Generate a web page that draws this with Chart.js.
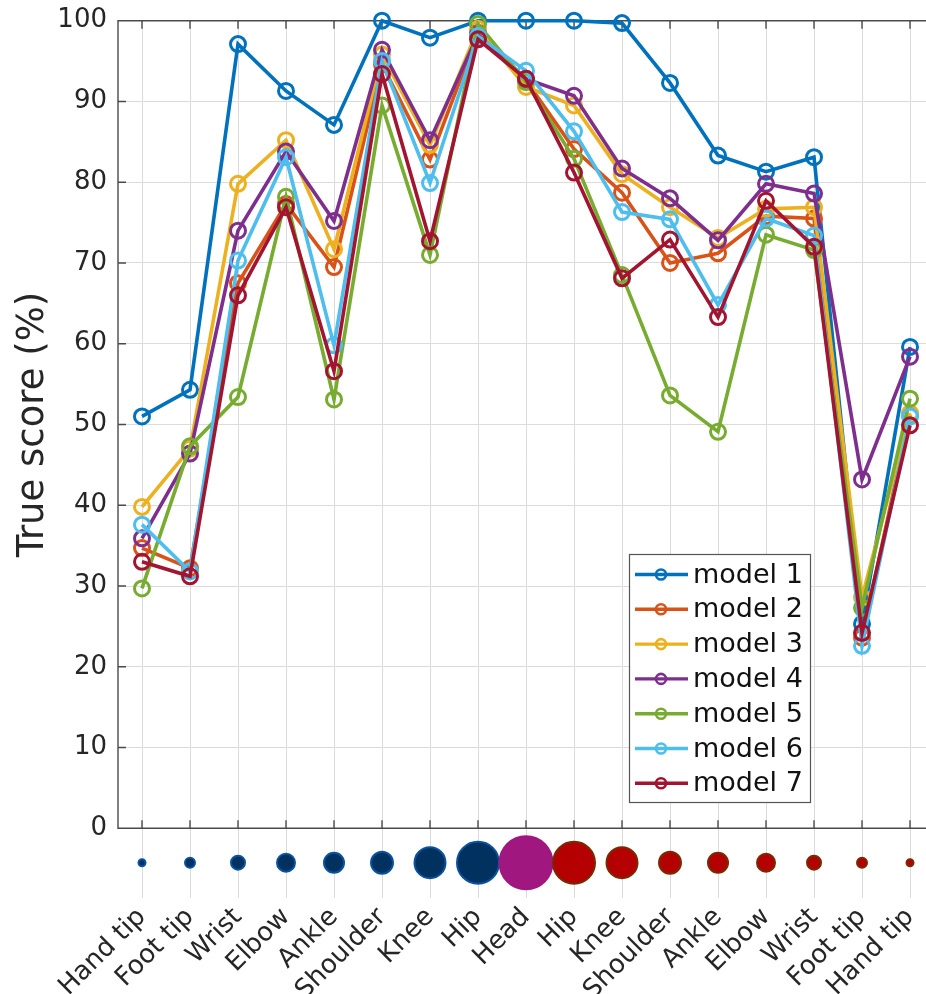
<!DOCTYPE html>
<html>
<head>
<meta charset="utf-8">
<script src="https://cdn.jsdelivr.net/npm/chart.js@4.4.1/dist/chart.umd.min.js"></script>
<style>
  html, body { margin: 0; padding: 0; background: #fff; overflow: hidden; }
  #chart { display: block; }
</style>
</head>
<body>
<canvas id="chart" width="926" height="994"></canvas>
<script>
// joints along the skeleton chain (left hand tip -> head -> right hand tip)
const jointLabels = ['Hand tip', 'Foot tip', 'Wrist', 'Elbow', 'Ankle', 'Shoulder', 'Knee', 'Hip',
  'Head', 'Hip', 'Knee', 'Shoulder', 'Ankle', 'Elbow', 'Wrist', 'Foot tip', 'Hand tip'];

// relative joint weight, shown as the circles under the axis
const jointWeight = [9, 12, 16, 20, 22, 24, 33, 44, 55, 44, 33, 24, 22, 20, 16, 12, 9];
const jointSide = ['L', 'L', 'L', 'L', 'L', 'L', 'L', 'L', 'C', 'R', 'R', 'R', 'R', 'R', 'R', 'R', 'R'];

const yTicks = [0, 10, 20, 30, 40, 50, 60, 70, 80, 90, 100];

const modelNames = ['model 1', 'model 2', 'model 3', 'model 4', 'model 5', 'model 6', 'model 7'];

const model1 = [51.0, 54.3, 97.1, 91.3, 87.1, 100, 97.9, 100, 100, 100, 99.7, 92.3, 83.3, 81.3, 83.1, 25.3, 59.6];
const model2 = [34.7, 32.2, 67.5, 77.3, 69.5, 94.6, 82.8, 98.5, 92.6, 84.1, 78.7, 70.0, 71.2, 75.8, 75.5, 23.6, 51.2];
const model3 = [39.8, 47.0, 79.8, 85.2, 71.7, 95.8, 84.6, 99.0, 91.8, 89.5, 81.0, 76.9, 73.1, 76.7, 76.9, 28.6, 51.4];
const model4 = [35.9, 46.4, 74.0, 83.8, 75.2, 96.4, 85.2, 98.3, 92.8, 90.7, 81.7, 78.0, 72.8, 79.8, 78.6, 43.2, 58.4];
const model5 = [29.7, 47.3, 53.4, 78.2, 53.1, 89.5, 71.0, 99.6, 92.4, 82.9, 68.5, 53.6, 49.1, 73.5, 71.6, 27.3, 53.2];
const model6 = [37.6, 31.8, 70.3, 83.1, 59.8, 95.0, 79.9, 98.1, 93.8, 86.3, 76.3, 75.4, 64.8, 75.5, 73.4, 22.6, 51.0];
const model7 = [33.0, 31.2, 66.0, 76.9, 56.6, 93.4, 72.7, 97.7, 92.8, 81.2, 68.1, 72.9, 63.3, 77.7, 72.0, 24.2, 49.9];

const modelColors = ['#0072BD', '#D95319', '#EDB120', '#7E2F8E', '#77AC30', '#4DBEEE', '#A2142F'];
const FONT = "'DejaVu Sans', sans-serif";
const TEXT = '#262626';
const AXIS = '#4a4a4a';

// y range: 0..100 for scores, below 0 is the strip with the joint circles
const Y_MIN = -8.63;
const CIRCLE_Y = -4.26;

const sideFill = { L: '#00315f', C: '#a0177f', R: '#b40000' };
const sideEdge = { L: '#0a52a0', C: '#a0177f', R: '#7a2a00' };

const lineSets = [model1, model2, model3, model4, model5, model6, model7].map((vals, i) => ({
  type: 'line',
  label: modelNames[i],
  data: vals.map((v, j) => ({ x: j, y: v })),
  borderColor: modelColors[i],
  backgroundColor: 'rgba(0,0,0,0)',
  borderWidth: 3.6,
  pointRadius: 7.5,
  pointBorderWidth: 3,
  pointBackgroundColor: 'rgba(0,0,0,0)',
  pointBorderColor: modelColors[i],
  tension: 0,
  clip: false,
  order: 6 - i // model 7 ends up on top
}));

const jointSet = {
  type: 'bubble',
  label: 'joints',
  data: jointWeight.map((w, j) => ({ x: j, y: CIRCLE_Y, r: w / 2 - 1 })),
  backgroundColor: jointSide.map(s => sideFill[s]),
  borderColor: jointSide.map(s => sideEdge[s]),
  borderWidth: 2,
  clip: false,
  order: 10
};

// box, inward ticks, y label and legend (MATLAB look)
const decorPlugin = {
  id: 'decor',
  beforeDatasetsDraw(chart) {
    const { ctx, chartArea } = chart;
    const xs = chart.scales.x, ys = chart.scales.y;
    const yTop = ys.getPixelForValue(100);
    const yZero = ys.getPixelForValue(0);
    ctx.save();
    ctx.strokeStyle = AXIS;
    ctx.lineWidth = 1.4;
    ctx.beginPath();
    ctx.moveTo(chartArea.right, yTop);
    ctx.lineTo(chartArea.left, yTop);
    ctx.lineTo(chartArea.left, yZero);
    ctx.lineTo(chartArea.right, yZero);
    jointLabels.forEach((_, j) => {
      const px = xs.getPixelForValue(j);
      ctx.moveTo(px, yTop); ctx.lineTo(px, yTop + 8);
      ctx.moveTo(px, yZero); ctx.lineTo(px, yZero - 8);
    });
    yTicks.forEach(v => {
      const py = ys.getPixelForValue(v);
      ctx.moveTo(chartArea.left, py); ctx.lineTo(chartArea.left + 8, py);
    });
    ctx.stroke();

    // y axis title, centred on 0..100
    ctx.fillStyle = TEXT;
    ctx.font = '37px ' + FONT;
    ctx.translate(43, (yTop + yZero) / 2);
    ctx.rotate(-Math.PI / 2);
    ctx.textAlign = 'center';
    ctx.textBaseline = 'alphabetic';
    ctx.fillText('True score (%)', 0, 0);
    ctx.restore();
  },
  afterDraw(chart) {
    const { ctx } = chart;
    const box = { x: 629.5, y: 554.5, w: 181, h: 248 };
    ctx.save();
    ctx.fillStyle = '#fff';
    ctx.fillRect(box.x, box.y, box.w, box.h);
    ctx.strokeStyle = '#555';
    ctx.lineWidth = 1.2;
    ctx.strokeRect(box.x, box.y, box.w, box.h);
    ctx.font = '27px ' + FONT;
    ctx.textBaseline = 'middle';
    ctx.textAlign = 'left';
    modelNames.forEach((name, i) => {
      const cy = 574.5 + i * 34.8;
      ctx.strokeStyle = modelColors[i];
      ctx.lineWidth = 3.4;
      ctx.beginPath();
      ctx.moveTo(635, cy); ctx.lineTo(688, cy);
      ctx.stroke();
      ctx.lineWidth = 2.6;
      ctx.beginPath();
      ctx.arc(661, cy, 5, 0, Math.PI * 2);
      ctx.stroke();
      ctx.fillStyle = '#111';
      ctx.fillText(name, 693, cy + 1);
    });
    ctx.restore();
  }
};

const chart = new Chart(document.getElementById('chart'), {
  data: { datasets: [...lineSets, jointSet] },
  options: {
    responsive: false,
    animation: false,
    devicePixelRatio: 1,
    layout: { autoPadding: false, padding: { top: 20.7, right: 0, bottom: 0, left: 0 } },
    plugins: {
      legend: { display: false },
      tooltip: { enabled: false }
    },
    scales: {
      x: {
        type: 'linear',
        min: -0.5,
        max: 16.333,
        afterBuildTicks: scale => { scale.ticks = jointLabels.map((_, j) => ({ value: j })); },
        afterFit: scale => { scale.height = 96; scale.paddingLeft = 0; scale.paddingRight = 0; },
        grid: { color: '#dcdcdc', lineWidth: 1, drawTicks: false },
        border: { display: false },
        ticks: {
          autoSkip: false,
          minRotation: 45,
          maxRotation: 45,
          padding: 4,
          color: TEXT,
          font: { family: FONT, size: 26 },
          callback: v => jointLabels[v]
        }
      },
      y: {
        min: Y_MIN,
        max: 100,
        afterBuildTicks: scale => { scale.ticks = yTicks.map(v => ({ value: v })); },
        afterFit: scale => { scale.width = 118; scale.paddingTop = 0; scale.paddingBottom = 0; },
        grid: {
          drawTicks: false,
          lineWidth: 1,
          color: c => (c.tick && (c.tick.value === 0 || c.tick.value === 100)) ? 'rgba(0,0,0,0)' : '#dcdcdc'
        },
        border: { display: false },
        ticks: {
          padding: 11,
          color: TEXT,
          font: { family: FONT, size: 26 },
          callback: v => String(v)
        }
      }
    }
  },
  plugins: [decorPlugin]
});
</script>
</body>
</html>
